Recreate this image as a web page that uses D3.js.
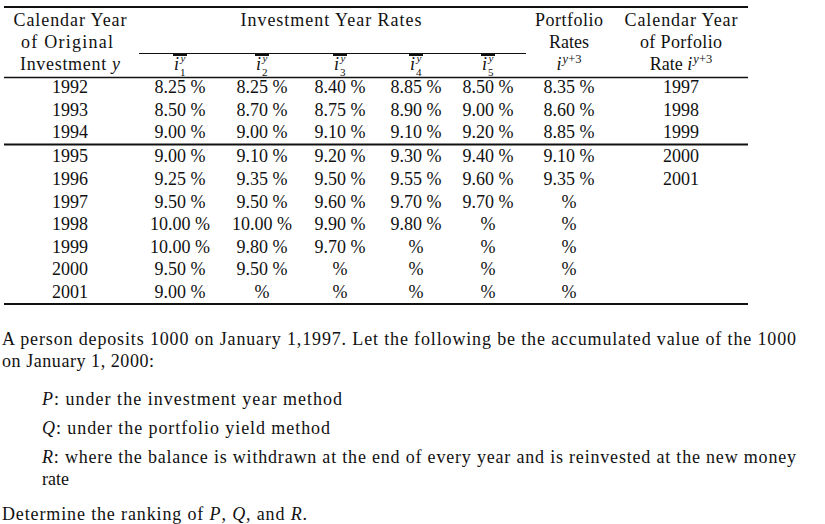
<!DOCTYPE html>
<html>
<head>
<meta charset="utf-8">
<script src="https://cdn.jsdelivr.net/npm/d3@7"></script>
<style>
  body { margin: 0; background: #fff; }
  svg { display: block; }
  text { font-family: "Liberation Serif", "Times New Roman", serif; fill: #111; }
</style>
</head>
<body>
<svg id="chart" width="825" height="524"></svg>
<script>
// ---- data ----
const years = [1992, 1993, 1994, 1995, 1996, 1997, 1998, 1999, 2000, 2001];
const rate1 = [8.25, 8.50, 9.00, 9.00, 9.25, 9.50, 10.00, 10.00, 9.50, 9.00];
const rate2 = [8.25, 8.70, 9.00, 9.10, 9.35, 9.50, 10.00, 9.80, 9.50, null];
const rate3 = [8.40, 8.75, 9.10, 9.20, 9.50, 9.60, 9.90, 9.70, null, null];
const rate4 = [8.85, 8.90, 9.10, 9.30, 9.55, 9.70, 9.80, null, null, null];
const rate5 = [8.50, 9.00, 9.20, 9.40, 9.60, 9.70, null, null, null, null];
const portfolio = [8.35, 8.60, 8.85, 9.10, 9.35, null, null, null, null, null];
const portfolioYears = [1997, 1998, 1999, 2000, 2001, null, null, null, null, null];
const rateKeys = ["1", "2", "3", "4", "5"];

// ---- layout ----
const svg = d3.select("#chart");
const FS = 18;
const colKeys = ["year", "r1", "r2", "r3", "r4", "r5", "port", "pyear"];
const x = d3.scaleOrdinal().domain(colKeys).range([70, 180, 262, 340, 416, 488, 569, 681]);
const rowY = d3.scaleLinear().domain([0, 9]).range([93, 296.4]);
const y = i => rowY(i) + (i >= 3 ? 1.5 : 0);
const fmt = v => v == null ? "%" : d3.format(".2f")(v) + " %";

function rule(y0, x0, x1, w) {
  svg.append("line").attr("x1", x0).attr("x2", x1).attr("y1", y0).attr("y2", y0)
    .attr("stroke", "#111").attr("stroke-width", w);
}
function label(txt, cx, by, opts = {}) {
  const t = svg.append("text").attr("x", cx).attr("y", by)
    .attr("text-anchor", opts.anchor || "middle")
    .attr("font-size", opts.size || FS);
  if (opts.len) t.attr("textLength", opts.len).attr("lengthAdjust", "spacing");
  if (typeof txt === "string") t.text(txt);
  else txt.forEach(p => t.append("tspan").attr("font-style", p.it ? "italic" : null)
      .attr("font-size", p.size || null).attr("dy", p.dy || null).text(p.t));
  return t;
}

// rules
rule(7, 4, 748, 1.8);
rule(53.5, 139, 526, 1.2);
rule(77.5, 4, 748, 1.6);
rule(144.5, 4, 748, 1.8);
rule(304, 4, 748, 2);

// headers
label("Calendar Year", x("year"), 26, {len: 113});
label("of Original", x("year") - 3, 48, {len: 92});
label([{t: "Investment "}, {t: "y", it: true}], x("year"), 70, {len: 100});
label("Investment Year Rates", 331, 26, {len: 181});
label("Portfolio", x("port"), 26, {len: 68});
label("Rates", x("port"), 48);
label("Calendar Year", x("pyear"), 26, {len: 113});
label("of Porfolio", x("pyear"), 48, {len: 82});

// i^y_k headers (single text each: i, superscript y, subscript k)
rateKeys.forEach(k => {
  const cx = x("r" + k);
  svg.append("rect").attr("x", cx - 7).attr("y", 54).attr("width", 14).attr("height", 2).attr("fill", "#111");
  const t = svg.append("text").attr("x", cx - 6).attr("y", 70).attr("font-size", FS);
  t.append("tspan").attr("font-style", "italic").text("i");
  t.append("tspan").attr("font-size", 11).attr("font-style", "italic").attr("dx", 1.5).attr("dy", -8).text("y");
  t.append("tspan").attr("font-size", 11).attr("dx", -5.5).attr("dy", 13.5).text(k);
});
// i^{y+3}
function iy3(cx, by, prefix) {
  const t = svg.append("text").attr("x", cx).attr("y", by).attr("text-anchor", "middle").attr("font-size", FS);
  if (prefix) t.append("tspan").text(prefix);
  t.append("tspan").attr("font-style", "italic").text("i");
  t.append("tspan").attr("font-size", 12.5).attr("dy", -7).attr("dx", 1).attr("font-style", "italic").text("y");
  t.append("tspan").attr("font-size", 12.5).text("+3");
}
iy3(x("port"), 70, null);
iy3(x("pyear"), 70, "Rate ");

// body cells
const cols = [
  {key: "year", vals: years, f: v => String(v)},
  {key: "r1", vals: rate1, f: fmt},
  {key: "r2", vals: rate2, f: fmt},
  {key: "r3", vals: rate3, f: fmt},
  {key: "r4", vals: rate4, f: fmt},
  {key: "r5", vals: rate5, f: fmt},
  {key: "port", vals: portfolio, f: fmt},
  {key: "pyear", vals: portfolioYears, f: v => v == null ? "" : String(v)}
];
cols.forEach(c => {
  svg.append("g").selectAll("text").data(c.vals).join("text")
    .attr("x", x(c.key)).attr("y", (d, i) => y(i))
    .attr("text-anchor", "middle").attr("font-size", FS)
    .text(d => c.f(d));
});

// paragraph
label("A person deposits 1000 on January 1,1997. Let the following be the accumulated value of the 1000", 2, 345, {anchor: "start", len: 794});
label("on January 1, 2000:", 2, 367, {anchor: "start", len: 152});
label([{t: "P", it: true}, {t: ": under the investment year method"}], 42, 405, {anchor: "start", len: 300});
label([{t: "Q", it: true}, {t: ": under the portfolio yield method"}], 42, 434, {anchor: "start", len: 288});
label([{t: "R", it: true}, {t: ": where the balance is withdrawn at the end of every year and is reinvested at the new money"}], 42, 463, {anchor: "start", len: 754});
label("rate", 42, 485, {anchor: "start"});
label([{t: "Determine the ranking of "}, {t: "P", it: true}, {t: ", "}, {t: "Q", it: true}, {t: ", and "}, {t: "R", it: true}, {t: "."}], 2, 519.5, {anchor: "start", len: 305});
</script>
</body>
</html>
